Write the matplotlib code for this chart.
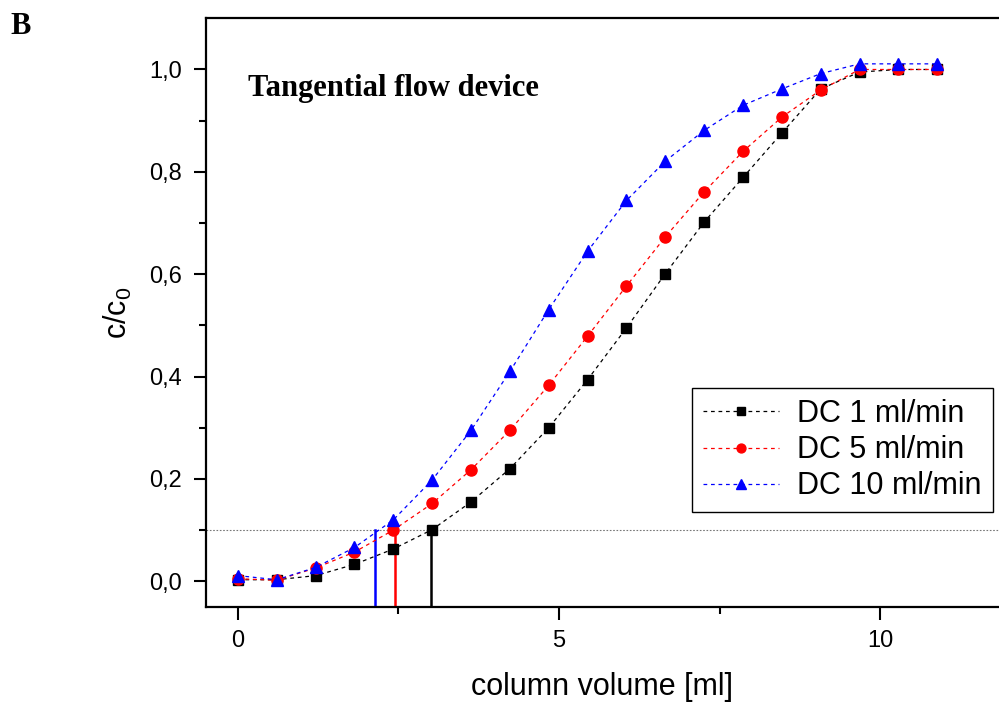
import numpy as np
import matplotlib.pyplot as plt

plt.rcParams['font.family'] = ['Liberation Sans', 'DejaVu Sans']
plt.rcParams['mathtext.default'] = 'regular'

# column volume [ml]
x = [0, 0.605, 1.21, 1.815, 2.42, 3.025, 3.63, 4.235, 4.84, 5.445,
     6.05, 6.655, 7.26, 7.865, 8.47, 9.075, 9.68, 10.285, 10.89]

dc1 = [0.003, 0.003, 0.011, 0.033, 0.063, 0.101, 0.155, 0.220, 0.300, 0.394,
       0.495, 0.601, 0.702, 0.789, 0.876, 0.962, 0.995, 1.0, 1.0]
dc5 = [0.005, 0.002, 0.026, 0.057, 0.100, 0.152, 0.218, 0.295, 0.383, 0.479,
       0.577, 0.673, 0.761, 0.840, 0.907, 0.960, 1.0, 1.0, 1.0]
dc10 = [0.011, 0.003, 0.027, 0.066, 0.120, 0.198, 0.295, 0.410, 0.531, 0.645,
        0.744, 0.821, 0.881, 0.930, 0.962, 0.992, 1.011, 1.011, 1.011]

labels = ['DC 1 ml/min', 'DC 5 ml/min', 'DC 10 ml/min']
breakthrough = [3.0, 2.45, 2.13]   # x where c/c0 = 0.1
threshold = 0.1

fig = plt.figure(figsize=(9.99, 7.04), dpi=100)
ax = fig.add_axes([0.206, 0.138, 0.794, 0.836])

ax.axhline(threshold, color='#777777', lw=0.8, ls=(0, (1.5, 1.5)), zorder=1)

ax.plot(x, dc1, color='black', ls='--', dashes=(3, 3), lw=0.9, marker='s',
        markersize=7, label=labels[0], zorder=3)
ax.plot(x, dc5, color='red', ls='--', dashes=(3, 3), lw=0.9, marker='o',
        markersize=8, label=labels[1], zorder=3)
ax.plot(x, dc10, color='blue', ls='--', dashes=(3, 3), lw=0.9, marker='^',
        markersize=9, label=labels[2], zorder=4)

for xv, c in zip(breakthrough, ['black', 'red', 'blue']):
    ax.plot([xv, xv], [-0.05, threshold], color=c, lw=1.8, zorder=2)

ax.set_xlim(-0.5, 11.85)
ax.set_ylim(-0.05, 1.1)

ax.set_xticks([0, 5, 10])
ax.set_xticks([2.5, 7.5], minor=True)
ax.set_yticks([0, 0.2, 0.4, 0.6, 0.8, 1.0])
ax.set_yticks([0.1, 0.3, 0.5, 0.7, 0.9], minor=True)
ax.set_yticklabels(['0,0', '0,2', '0,4', '0,6', '0,8', '1,0'])

ax.tick_params(axis='both', which='major', direction='out', length=9, width=1.5,
               labelsize=17, pad=8)
ax.tick_params(axis='both', which='minor', direction='out', length=5, width=1.5)
ax.spines['right'].set_visible(False)
for s in ['left', 'bottom', 'top']:
    ax.spines[s].set_linewidth(1.6)

ax.set_xlabel('column volume [ml]', fontsize=22, labelpad=14)
ax.set_ylabel('c/c$_0$', fontsize=22, labelpad=11)

ax.text(0.053, 0.881, 'Tangential flow device', transform=ax.transAxes,
        fontsize=22, fontweight='bold', family='Liberation Serif', va='center')
fig.text(0.01, 0.962, 'B', fontsize=22, fontweight='bold',
         family='Liberation Serif', va='center')

leg = ax.legend(loc='lower right', bbox_to_anchor=(0.992, 0.161), fontsize=22,
                fancybox=False, edgecolor='black', framealpha=1,
                handlelength=2.5, handletextpad=0.6, borderpad=0.35,
                labelspacing=0.2, markerscale=0.8, borderaxespad=0)
leg.get_frame().set_linewidth(1.0)

fig.savefig('out.png', dpi=100)
